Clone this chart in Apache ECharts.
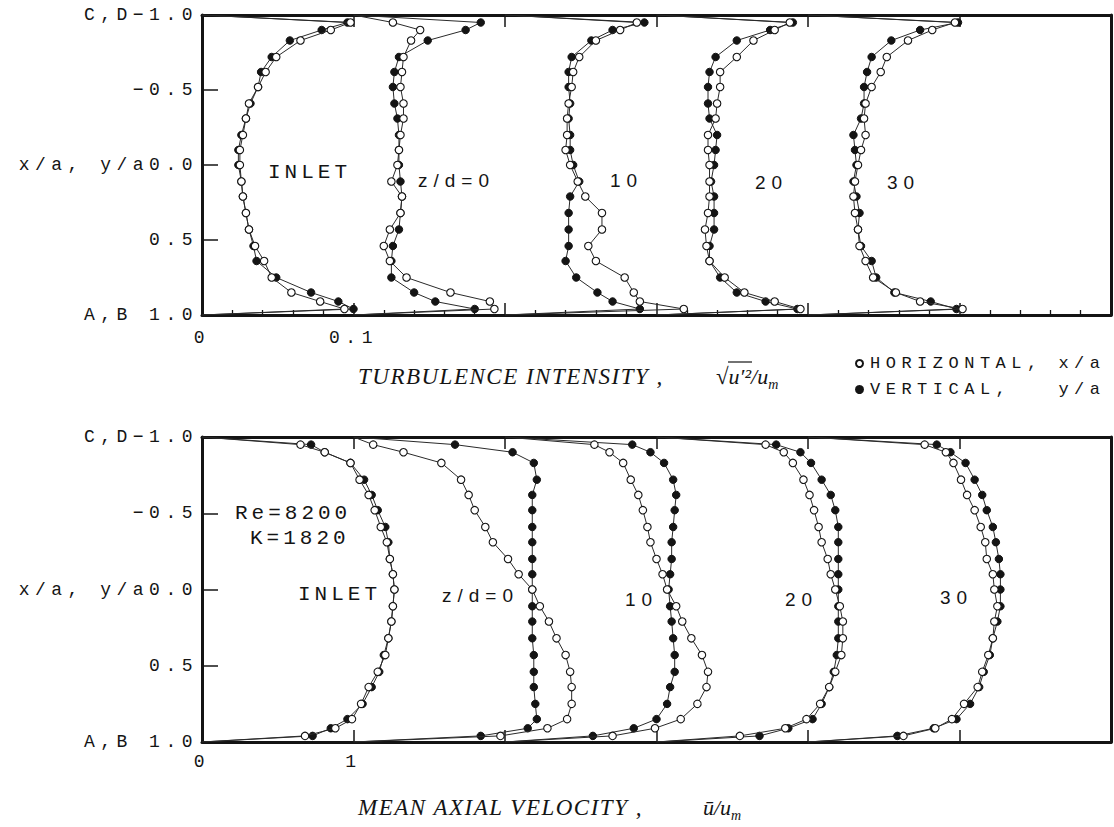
<!DOCTYPE html>
<html><head><meta charset="utf-8">
<script src="https://cdn.jsdelivr.net/npm/echarts/dist/echarts.min.js"></script>
<style>
html,body{margin:0;padding:0;background:#fff;}
#c{width:1114px;height:827px;}
text[style*="Liberation Mono"]{letter-spacing:5.5px;}
text[style*="Courier"]{letter-spacing:4px;}
text[style*="Liberation Sans"]{letter-spacing:6px;}
text[style*="Liberation Serif"]{letter-spacing:1.5px;}
</style></head>
<body><div id="c"></div>
<script>
// shared transverse positions (x/a or y/a)
const yPos = [-0.95,-0.9,-0.83,-0.72,-0.62,-0.52,-0.41,-0.31,-0.2,-0.1,0,0.11,0.21,0.32,0.43,0.54,0.64,0.75,0.85,0.91,0.96];

// profile offsets along the abscissa
const tiOffsets = [0, 0.1, 0.2, 0.3, 0.4];
const uOffsets = [0, 1, 2, 3, 4];
const profileNames = ['INLET', 'z/d=0', '10', '20', '30'];

// turbulence intensity sqrt(u'^2)/um  (H = horizontal x/a, V = vertical y/a)
const tiInletH = [0.098,0.085,0.065,0.049,0.042,0.037,0.031,0.029,0.027,0.025,0.025,0.026,0.027,0.029,0.031,0.035,0.041,0.046,0.059,0.078,0.094];
const tiInletV = [0.096,0.079,0.058,0.046,0.039,0.037,0.032,0.029,0.026,0.024,0.024,0.026,0.027,0.029,0.031,0.034,0.036,0.049,0.072,0.090,0.100];
const tiZ0H  = [0.026,0.044,0.038,0.033,0.032,0.031,0.033,0.033,0.031,0.030,0.029,0.025,0.032,0.031,0.024,0.020,0.024,0.035,0.064,0.090,0.093];
const tiZ0V  = [0.084,0.074,0.049,0.030,0.027,0.026,0.027,0.029,0.030,0.030,0.030,0.031,0.032,0.031,0.030,0.026,0.025,0.025,0.040,0.054,0.080];
const tiZ10H = [0.087,0.076,0.060,0.049,0.045,0.044,0.042,0.041,0.041,0.040,0.043,0.048,0.053,0.064,0.064,0.055,0.060,0.079,0.085,0.089,0.118];
const tiZ10V = [0.092,0.071,0.057,0.044,0.042,0.042,0.043,0.042,0.043,0.043,0.045,0.049,0.043,0.042,0.042,0.042,0.040,0.047,0.061,0.071,0.089];
const tiZ20H = [0.088,0.078,0.064,0.053,0.042,0.042,0.040,0.039,0.034,0.034,0.035,0.035,0.035,0.034,0.032,0.033,0.035,0.045,0.058,0.078,0.095];
const tiZ20V = [0.090,0.075,0.053,0.039,0.035,0.034,0.034,0.035,0.040,0.039,0.038,0.036,0.038,0.038,0.038,0.035,0.035,0.042,0.053,0.072,0.093];
const tiZ30H = [0.097,0.082,0.066,0.052,0.048,0.042,0.038,0.037,0.038,0.035,0.033,0.031,0.030,0.031,0.033,0.034,0.038,0.043,0.058,0.074,0.102];
const tiZ30V = [0.099,0.074,0.055,0.042,0.039,0.037,0.037,0.035,0.030,0.031,0.032,0.030,0.032,0.034,0.033,0.035,0.042,0.045,0.057,0.081,0.098];

// mean axial velocity u/um
const uInletH = [0.65,0.81,0.98,1.04,1.10,1.14,1.18,1.22,1.24,1.26,1.27,1.26,1.25,1.23,1.21,1.16,1.10,1.05,0.99,0.88,0.68];
const uInletV = [0.72,0.81,0.98,1.07,1.12,1.16,1.21,1.23,1.24,1.26,1.27,1.26,1.25,1.23,1.20,1.17,1.12,1.06,0.96,0.85,0.73];
const uZ0H  = [0.13,0.33,0.58,0.71,0.76,0.80,0.87,0.92,1.02,1.09,1.18,1.23,1.29,1.34,1.40,1.43,1.44,1.44,1.41,1.28,0.97];
const uZ0V  = [0.67,1.05,1.19,1.21,1.18,1.18,1.18,1.18,1.18,1.18,1.18,1.18,1.18,1.18,1.19,1.19,1.19,1.20,1.21,1.15,0.84];
const uZ10H = [0.59,0.69,0.78,0.83,0.88,0.91,0.94,0.96,1.00,1.04,1.07,1.13,1.17,1.23,1.30,1.34,1.33,1.27,1.16,0.99,0.71];
const uZ10V = [0.84,0.96,1.05,1.11,1.13,1.12,1.11,1.10,1.10,1.09,1.08,1.09,1.10,1.11,1.12,1.12,1.09,1.07,1.00,0.85,0.58];
const uZ20H = [0.72,0.84,0.90,0.97,1.01,1.04,1.07,1.09,1.13,1.15,1.18,1.21,1.23,1.23,1.22,1.18,1.14,1.08,0.99,0.85,0.55];
const uZ20V = [0.79,0.95,1.02,1.09,1.15,1.18,1.20,1.20,1.20,1.20,1.20,1.20,1.20,1.20,1.19,1.17,1.14,1.09,1.03,0.87,0.68];
const uZ30H = [0.77,0.91,0.96,1.01,1.05,1.10,1.14,1.17,1.18,1.22,1.23,1.25,1.23,1.22,1.19,1.15,1.12,1.03,0.95,0.84,0.63];
const uZ30V = [0.85,0.94,1.04,1.10,1.15,1.18,1.22,1.24,1.26,1.27,1.27,1.27,1.25,1.22,1.20,1.16,1.13,1.07,0.98,0.83,0.59];

const tiH = [tiInletH, tiZ0H, tiZ10H, tiZ20H, tiZ30H];
const tiV = [tiInletV, tiZ0V, tiZ10V, tiZ20V, tiZ30V];
const uH = [uInletH, uZ0H, uZ10H, uZ20H, uZ30H];
const uV = [uInletV, uZ0V, uZ10V, uZ20V, uZ30V];

// axis tick labels
const yTickLabels = {'-1':'C,D\u22121.0', '-0.5':'\u22120.5', '0':'x/a, y/a0.0', '0.5':'0.5', '1':'A,B 1.0'};
const tiXLabels = {'0':'0', '0.1':'0.1'};
const uXLabels = {'0':'0', '1':'1'};

const H_NAME = 'HORIZONTAL, x/a';
const V_NAME = 'VERTICAL,   y/a';
const INK = '#141414';
const MONO = 'Liberation Mono';

function profile(name, offset, vals, axisIdx, filled) {
  const data = [{value: [offset, -1], symbol: 'none'}];
  vals.forEach((v, i) => data.push([+(offset + v).toFixed(4), yPos[i]]));
  data.push({value: [offset, 1], symbol: 'none'});
  return {
    type: 'line', name, xAxisIndex: axisIdx, yAxisIndex: axisIdx, data,
    symbol: 'circle', symbolSize: 7.5, showAllSymbol: true, silent: true,
    lineStyle: {color: '#2a2a2a', width: 1},
    itemStyle: filled ? {color: INK, borderColor: INK, borderWidth: 1}
                      : {color: '#fff', borderColor: INK, borderWidth: 1.1},
    z: filled ? 3 : 4, animation: false
  };
}
const series = [];
for (let k = 0; k < 5; k++) {
  series.push(profile(V_NAME, tiOffsets[k], tiV[k], 0, true));
  series.push(profile(H_NAME, tiOffsets[k], tiH[k], 0, false));
  series.push(profile(V_NAME, uOffsets[k], uV[k], 2, true));
  series.push(profile(H_NAME, uOffsets[k], uH[k], 2, false));
}

function key(v) { return String(Math.round(v * 1000) / 1000); }
const lineSty = {show: true, onZero: false, lineStyle: {color: INK, width: 3}};
const labSty = {fontFamily: MONO, fontSize: 18, color: INK};

function xAxes(gridIndex, max, interval, labels, minor, margin) {
  return [
    {type: 'value', gridIndex, position: 'bottom', min: 0, max, interval,
     axisLine: lineSty, splitLine: {show: false},
     axisTick: {show: true, inside: true, length: 12, lineStyle: {color: INK, width: 1.5}},
     minorTick: {show: minor, splitNumber: 5, length: 5, lineStyle: {color: INK, width: 1.3}},
     axisLabel: {show: true, margin, ...labSty, showMinLabel: true, showMaxLabel: true, hideOverlap: false,
       formatter: v => labels[key(v)] || ''}},
    {type: 'value', gridIndex, position: 'top', min: 0, max, interval,
     axisLine: lineSty, splitLine: {show: false},
     axisTick: {show: true, inside: true, length: 12, lineStyle: {color: INK, width: 1.5}},
     axisLabel: {show: false}}
  ];
}
function yAxes(gridIndex) {
  return [
    {type: 'value', gridIndex, position: 'left', min: -1, max: 1, interval: 0.5, inverse: true,
     axisLine: lineSty, splitLine: {show: false},
     axisTick: {show: true, inside: true, length: 16, lineStyle: {color: INK, width: 1.5}},
     axisLabel: {show: true, margin: 4, ...labSty, showMinLabel: true, showMaxLabel: true, hideOverlap: false,
       formatter: v => yTickLabels[key(v)] || ''}},
    {type: 'value', gridIndex, position: 'right', min: -1, max: 1, inverse: true,
     axisLine: lineSty, splitLine: {show: false}, axisTick: {show: false}, axisLabel: {show: false}}
  ];
}

function txt(x, y, text, fontFamily, fontSize, extra) {
  return {type: 'text', x, y, silent: true,
    style: Object.assign({text, fontFamily, fontSize, fill: INK, align: 'left', verticalAlign: 'middle'}, extra || {})};
}
const SANS = 'Liberation Sans';
const CMONO = 'Courier New, Liberation Mono';
const SERIF = 'Liberation Serif';
const FSERIF = 'Times New Roman, serif';

const graphics = [
  txt(268, 172, profileNames[0], CMONO, 21),
  txt(418, 180, profileNames[1], SANS, 19),
  txt(610, 180, profileNames[2], SANS, 19),
  txt(755, 182, profileNames[3], SANS, 19),
  txt(887, 182, profileNames[4], SANS, 19),
  txt(235, 513, 'Re=8200', CMONO, 21),
  txt(250, 538, 'K=1820', CMONO, 21),
  txt(298, 594, profileNames[0], CMONO, 21),
  txt(442, 595, profileNames[1], SANS, 19),
  txt(625, 599, profileNames[2], SANS, 19),
  txt(785, 599, profileNames[3], SANS, 19),
  txt(940, 597, profileNames[4], SANS, 19),
  txt(358, 376, 'TURBULENCE INTENSITY ,', SERIF, 23, {fontStyle: 'italic'}),
  {type: 'text', x: 716, y: 376, silent: true, style: {
    text: '{r|\u221A}{u|u\u2032\u00B2/u}{s|m}', verticalAlign: 'middle', align: 'left', fill: INK,
    rich: {r: {fontFamily: FSERIF, fontSize: 23, fill: INK},
           u: {fontFamily: FSERIF, fontStyle: 'italic', fontSize: 22, fill: INK},
           s: {fontFamily: FSERIF, fontStyle: 'italic', fontSize: 14, fill: INK, verticalAlign: 'bottom', padding: [0, 0, -4, 0]}}}},
  {type: 'line', silent: true, shape: {x1: 728, y1: 362, x2: 752, y2: 362}, style: {stroke: INK, lineWidth: 1.2}},
  txt(358, 807, 'MEAN AXIAL VELOCITY ,', SERIF, 23, {fontStyle: 'italic'}),
  {type: 'text', x: 703, y: 807, silent: true, style: {
    text: '{u|\u016B/u}{s|m}', verticalAlign: 'middle', align: 'left', fill: INK,
    rich: {u: {fontFamily: FSERIF, fontStyle: 'italic', fontSize: 22, fill: INK},
           s: {fontFamily: FSERIF, fontStyle: 'italic', fontSize: 14, fill: INK, verticalAlign: 'bottom', padding: [0, 0, -4, 0]}}}}
];

const chart = echarts.init(document.getElementById('c'), null, {renderer: 'svg', width: 1114, height: 827});
chart.setOption({
  animation: false,
  backgroundColor: '#fff',
  grid: [
    {left: 202, top: 15, width: 909, height: 300, containLabel: false, outerBoundsMode: 'none'},
    {left: 202, top: 437, width: 909, height: 305, containLabel: false, outerBoundsMode: 'none'}
  ],
  xAxis: [...xAxes(0, 0.6, 0.1, tiXLabels, true, 14), ...xAxes(1, 6, 1, uXLabels, false, 11)],
  yAxis: [...yAxes(0), ...yAxes(1)],
  legend: {left: 850, top: 350, orient: 'vertical', itemGap: 9, itemWidth: 7, itemHeight: 7,
    selectedMode: false, data: [{name: H_NAME, icon: 'circle'}, {name: V_NAME, icon: 'circle'}],
    textStyle: {fontFamily: MONO, fontSize: 17, color: INK, padding: [0, 0, 0, 2]}},
  graphic: graphics,
  series
});
</script></body></html>
